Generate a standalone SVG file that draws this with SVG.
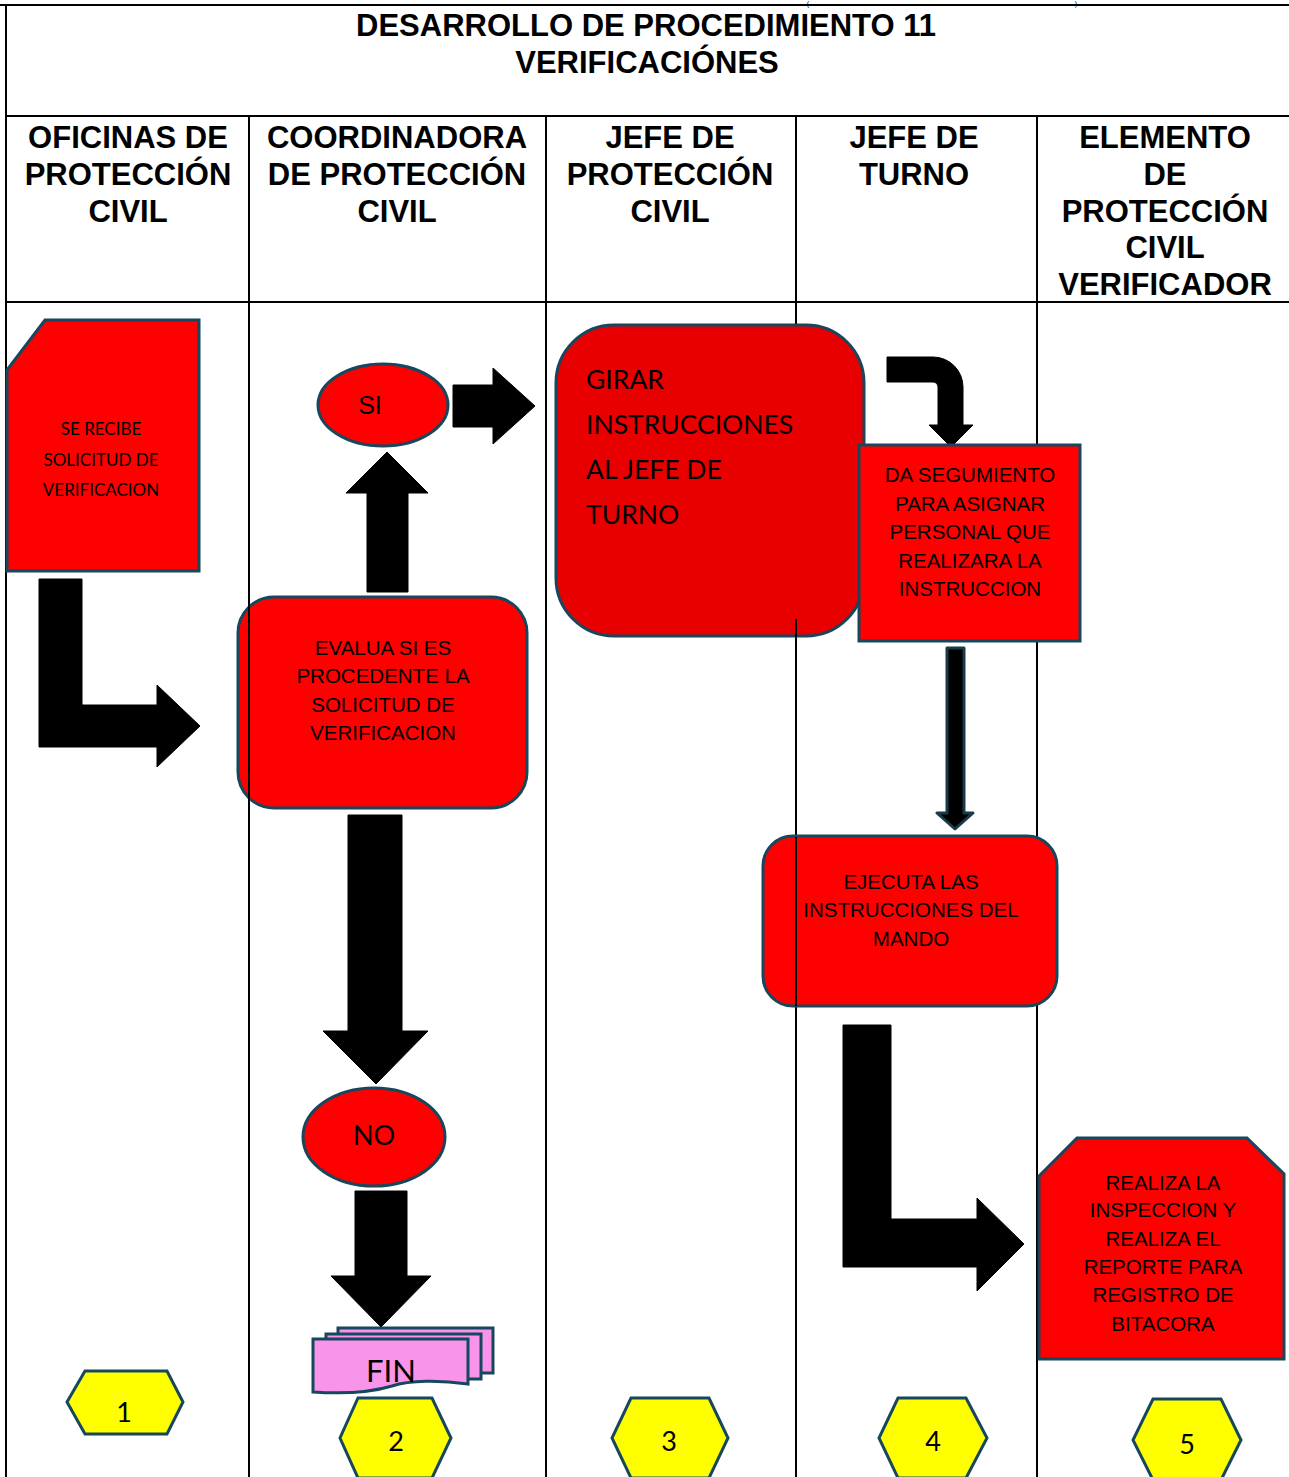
<svg xmlns="http://www.w3.org/2000/svg" width="1289" height="1477" viewBox="0 0 1289 1477">
<style>
.grid{stroke:#000;stroke-width:2;fill:none}
.hdr{font-family:"Liberation Sans",Arial,sans-serif;font-weight:bold;font-size:31px;fill:#000;text-anchor:middle}
.node{stroke:#17475c;stroke-width:3}
.red{fill:#ff0000}
.ar{font-family:"Liberation Sans",Arial,sans-serif;font-size:20.5px;fill:#000;text-anchor:middle}
.cal{font-family:Lato,"Open Sans",sans-serif;fill:#000}
.arrow{fill:#000;stroke:#000;stroke-width:1;stroke-linejoin:round}
.hex{fill:#ffff00;stroke:#17475c;stroke-width:3}
.num{font-family:Lato,"Open Sans",sans-serif;font-size:27px;fill:#000;text-anchor:middle}
.paren{font-family:"Liberation Sans",Arial,sans-serif;font-size:7px;fill:#000;text-anchor:middle}
</style>
<rect x="0" y="0" width="1289" height="1477" fill="#ffffff"/>

<g id="frame">
  <text x="808" y="5.5" class="paren">(</text>
  <text x="1076" y="5.5" class="paren">)</text>
  <line x1="0" y1="5" x2="1289" y2="5" class="grid" stroke-width="2.5"/>
  <line x1="6" y1="5" x2="6" y2="1477" class="grid"/>
  <line x1="6" y1="116" x2="1289" y2="116" class="grid"/>
  <line x1="6" y1="302" x2="1289" y2="302" class="grid" stroke-width="3"/>
  <line x1="249" y1="116" x2="249" y2="1477" class="grid"/>
  <line x1="546" y1="116" x2="546" y2="1477" class="grid"/>
  <line x1="796" y1="116" x2="796" y2="1477" class="grid"/>
  <line x1="1037" y1="116" x2="1037" y2="1477" class="grid"/>
  <text x="646" y="36" class="hdr">DESARROLLO DE PROCEDIMIENTO 11</text>
  <text x="647" y="73" class="hdr">VERIFICACIÓNES</text>
</g>

<g id="lane-headers">
  <text class="hdr"><tspan x="128" y="148">OFICINAS DE</tspan><tspan x="128" y="185">PROTECCIÓN</tspan><tspan x="128" y="222">CIVIL</tspan></text>
  <text class="hdr"><tspan x="397" y="148">COORDINADORA</tspan><tspan x="397" y="185">DE PROTECCIÓN</tspan><tspan x="397" y="222">CIVIL</tspan></text>
  <text class="hdr"><tspan x="670" y="148">JEFE DE</tspan><tspan x="670" y="185">PROTECCIÓN</tspan><tspan x="670" y="222">CIVIL</tspan></text>
  <text class="hdr"><tspan x="914" y="148">JEFE DE</tspan><tspan x="914" y="185">TURNO</tspan></text>
  <text class="hdr"><tspan x="1165" y="148">ELEMENTO</tspan><tspan x="1165" y="185">DE</tspan><tspan x="1165" y="222">PROTECCIÓN</tspan><tspan x="1165" y="258">CIVIL</tspan><tspan x="1165" y="295">VERIFICADOR</tspan></text>
</g>

<g id="connectors">
  <polygon class="arrow" points="39,579 82,579 82,705 157,705 157,685 200,726 157,767 157,747 39,747"/>
  <polygon class="arrow" points="367,592 408,592 408,493 428,493 387,452 346,493 367,493"/>
  <polygon class="arrow" points="453,385 493,385 493,368 535,406 493,444 493,427 453,427"/>
  <polygon class="arrow" points="348,815 402,815 402,1031 428,1031 376,1084 323,1031 348,1031"/>
  <polygon class="arrow" points="355,1191 407,1191 407,1276 431,1276 381,1327 331,1276 355,1276"/>
  <path class="arrow" d="M887,357 H933 A30,30 0 0 1 963,387 V425 H973 L951,447 L929,425 H938 V387 A5,5 0 0 0 933,382 H887 Z"/>
  <polygon points="947,648 964,648 964,813 973,813 955,829 937,813 947,813" fill="#000" stroke="#1a3a4a" stroke-width="3" stroke-linejoin="round"/>
  <polygon class="arrow" points="843,1025 891,1025 891,1219 977,1219 977,1198 1024,1244 977,1291 977,1267 843,1267"/>
</g>

<g id="n1">
  <polygon class="node red" points="45,320 199,320 199,571 7,571 7,370"/>
  <text class="cal" font-size="17" text-anchor="middle"><tspan x="101" y="435">SE RECIBE</tspan><tspan x="101" y="466">SOLICITUD DE</tspan><tspan x="101" y="496">VERIFICACION</tspan></text>
</g>

<g id="n2">
  <rect class="node red" x="238" y="597" width="289" height="211" rx="36"/>
  <text class="ar"><tspan x="383" y="655">EVALUA SI ES</tspan><tspan x="383" y="683">PROCEDENTE LA</tspan><tspan x="383" y="712">SOLICITUD DE</tspan><tspan x="383" y="740">VERIFICACION</tspan></text>
</g>

<g id="n-si">
  <ellipse class="node red" cx="383" cy="405" rx="65" ry="41"/>
  <text x="370" y="414" class="ar" style="font-size:25px">SI</text>
</g>

<g id="n-no">
  <ellipse class="node red" cx="374" cy="1137" rx="71" ry="49"/>
  <text x="374" y="1145" class="cal" font-size="27" text-anchor="middle">NO</text>
</g>

<g id="n-fin">
  <rect x="338" y="1328" width="155" height="45" fill="#f894ea" stroke="#17475c" stroke-width="3"/>
  <rect x="326" y="1334" width="155" height="45" fill="#f894ea" stroke="#17475c" stroke-width="3"/>
  <path d="M313,1339 H468 V1384 C440,1380 410,1380 392,1386 C372,1392 342,1394 313,1392 Z" fill="#f894ea" stroke="#17475c" stroke-width="3"/>
  <text x="391" y="1382" class="cal" font-size="31" text-anchor="middle">FIN</text>
</g>

<g id="n3">
  <rect class="node" fill="#e80000" x="556" y="325" width="308" height="311" rx="58"/>
  <text class="cal" font-size="26.5"><tspan x="586" y="389">GIRAR</tspan><tspan x="586" y="434">INSTRUCCIONES</tspan><tspan x="586" y="479">AL JEFE DE</tspan><tspan x="586" y="524">TURNO</tspan></text>
</g>

<g id="n4">
  <rect class="node red" x="859" y="445" width="221" height="196"/>
  <text class="ar"><tspan x="970" y="482">DA SEGUMIENTO</tspan><tspan x="970" y="511">PARA ASIGNAR</tspan><tspan x="970" y="539">PERSONAL QUE</tspan><tspan x="970" y="568">REALIZARA LA</tspan><tspan x="970" y="596">INSTRUCCION</tspan></text>
</g>

<g id="n5">
  <rect class="node red" x="763" y="836" width="294" height="170" rx="30"/>
  <text class="ar"><tspan x="911" y="889">EJECUTA LAS</tspan><tspan x="911" y="917">INSTRUCCIONES DEL</tspan><tspan x="911" y="946">MANDO</tspan></text>
</g>

<g id="n6">
  <polygon class="node red" points="1077,1138 1247,1138 1284,1174 1284,1359 1039,1359 1039,1176"/>
  <text class="ar"><tspan x="1163" y="1190">REALIZA LA</tspan><tspan x="1163" y="1217">INSPECCION Y</tspan><tspan x="1163" y="1246">REALIZA EL</tspan><tspan x="1163" y="1274">REPORTE PARA</tspan><tspan x="1163" y="1302">REGISTRO DE</tspan><tspan x="1163" y="1331">BITACORA</tspan></text>
</g>

<g id="lane-lines-over">
  <line x1="249" y1="598" x2="249" y2="808" class="grid"/>
  <line x1="796" y1="619" x2="796" y2="637" class="grid"/>
  <line x1="796" y1="837" x2="796" y2="1006" class="grid"/>
</g>

<g id="hex1"><polygon class="hex" points="85,1371 167,1371 183,1402 167,1434 85,1434 67,1402"/><text x="124" y="1422" class="num">1</text></g>
<g id="hex2"><polygon class="hex" points="358,1398 432,1398 451,1438 432,1478 358,1478 340,1438"/><text x="396" y="1451" class="num">2</text></g>
<g id="hex3"><polygon class="hex" points="631,1398 709,1398 728,1438 709,1478 631,1478 612,1438"/><text x="669" y="1451" class="num">3</text></g>
<g id="hex4"><polygon class="hex" points="898,1398 966,1398 987,1438 966,1478 898,1478 879,1438"/><text x="933" y="1451" class="num">4</text></g>
<g id="hex5"><polygon class="hex" points="1153,1399 1221,1399 1241,1440 1221,1480 1153,1480 1133,1440"/><text x="1187" y="1454" class="num">5</text></g>
</svg>
